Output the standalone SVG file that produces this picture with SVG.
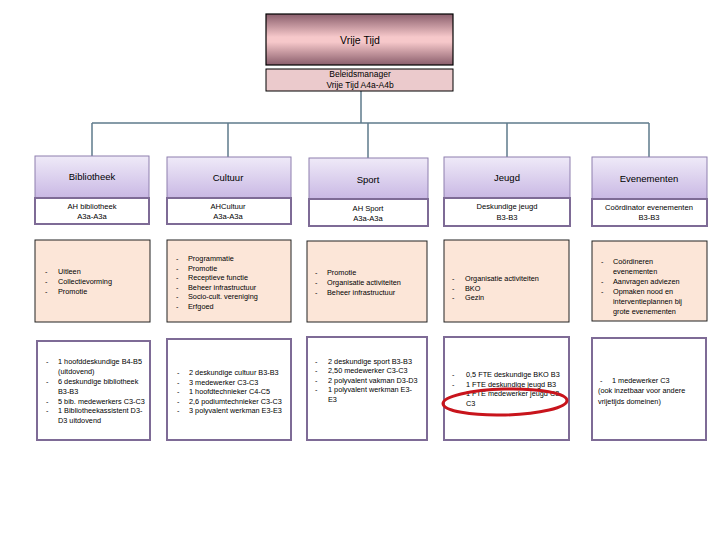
<svg xmlns="http://www.w3.org/2000/svg" width="720" height="540" viewBox="0 0 720 540">
<style>
text{font-family:"Liberation Sans",Arial,sans-serif;fill:#000}
.hd{font-size:9.5px;text-anchor:middle}
.sb{font-size:7.6px;text-anchor:middle}
.ls{font-size:7.3px}
.hbox{fill:url(#hg);stroke:#8E7FAE;stroke-width:1}
.sbox{fill:#fff;stroke:#7E6B96;stroke-width:2}
.mbox{fill:#FCE6D8;stroke:#222;stroke-width:1}
.bbox{fill:#fff;stroke:#7E6B96;stroke-width:2}
.con{fill:none;stroke:#5F7B8C;stroke-width:1.5}
</style>
<defs>
<linearGradient id="hg" x1="0" y1="0" x2="0" y2="1">
<stop offset="0" stop-color="#EFEAF8"/>
<stop offset="1" stop-color="#C9B8E4"/>
</linearGradient>
<linearGradient id="tg" x1="0" y1="0" x2="0" y2="1">
<stop offset="0" stop-color="#8A5E6C"/>
<stop offset="0.45" stop-color="#F6C8CA"/>
<stop offset="0.55" stop-color="#F6C8CA"/>
<stop offset="1" stop-color="#8A5E6C"/>
</linearGradient>
</defs>
<rect width="720" height="540" fill="#fff"/>

<g id="connectors">
<path class="con" d="M361 91V123M92 123H649M92 123V156M228 123V157M368 123V158M507 123V157M649 123V157"/>
</g>

<g id="vrije-tijd">
<rect x="266" y="14" width="187" height="51" fill="url(#tg)" stroke="#000" stroke-width="1.2"/>
<text x="360" y="44" style="font-size:10.5px;text-anchor:middle">Vrije Tijd</text>
</g>
<g id="beleidsmanager">
<rect x="266" y="69" width="187" height="22" fill="#EBCACC" stroke="#000" stroke-width="1"/>
<text x="360" y="77" style="font-size:8.5px;text-anchor:middle">Beleidsmanager</text>
<text x="360" y="88" style="font-size:8.5px;text-anchor:middle">Vrije Tijd A4a-A4b</text>
</g>

<g id="bibliotheek">
<rect class="hbox" x="35" y="156" width="114" height="42"/>
<text class="hd" x="92" y="180">Bibliotheek</text>
<rect class="sbox" x="35" y="198" width="114" height="26"/>
<text class="sb" x="92" y="209">AH bibliotheek</text>
<text class="sb" x="92" y="219">A3a-A3a</text>
</g>
<g id="cultuur">
<rect class="hbox" x="167" y="157" width="124" height="41"/>
<text class="hd" x="228" y="181">Cultuur</text>
<rect class="sbox" x="167" y="198" width="124" height="26"/>
<text class="sb" x="228" y="209">AHCultuur</text>
<text class="sb" x="228" y="219">A3a-A3a</text>
</g>
<g id="sport">
<rect class="hbox" x="309" y="158" width="119" height="41"/>
<text class="hd" x="368" y="183">Sport</text>
<rect class="sbox" x="309" y="199" width="119" height="27"/>
<text class="sb" x="368" y="211">AH Sport</text>
<text class="sb" x="368" y="221">A3a-A3a</text>
</g>
<g id="jeugd">
<rect class="hbox" x="444" y="157" width="126" height="41"/>
<text class="hd" x="507" y="181">Jeugd</text>
<rect class="sbox" x="444" y="198" width="126" height="28"/>
<text class="sb" x="507" y="209">Deskundige jeugd</text>
<text class="sb" x="507" y="220">B3-B3</text>
</g>
<g id="evenementen">
<rect class="hbox" x="592" y="157" width="115" height="42"/>
<text class="hd" x="649" y="182">Evenementen</text>
<rect class="sbox" x="592" y="199" width="115" height="27"/>
<text class="sb" x="649" y="210">Coördinator evenementen</text>
<text class="sb" x="649" y="220">B3-B3</text>
</g>

<g id="taken-bibliotheek">
<rect class="mbox" x="35" y="240" width="115" height="82"/>
<text class="ls"><tspan x="45" y="274">-</tspan><tspan x="58" y="274">Uitleen</tspan><tspan x="45" y="284">-</tspan><tspan x="58" y="284">Collectievorming</tspan><tspan x="45" y="294">-</tspan><tspan x="58" y="294">Promotie</tspan></text>
</g>
<g id="taken-cultuur">
<rect class="mbox" x="167" y="240" width="124" height="82"/>
<text class="ls"><tspan x="176" y="261">-</tspan><tspan x="188" y="261">Programmatie</tspan><tspan x="176" y="270.5">-</tspan><tspan x="188" y="270.5">Promotie</tspan><tspan x="176" y="280">-</tspan><tspan x="188" y="280">Receptieve functie</tspan><tspan x="176" y="289.5">-</tspan><tspan x="188" y="289.5">Beheer infrastructuur</tspan><tspan x="176" y="299">-</tspan><tspan x="188" y="299">Socio-cult. vereniging</tspan><tspan x="176" y="308.5">-</tspan><tspan x="188" y="308.5">Erfgoed</tspan></text>
</g>
<g id="taken-sport">
<rect class="mbox" x="307" y="241" width="120" height="81"/>
<text class="ls"><tspan x="315" y="275">-</tspan><tspan x="327" y="275">Promotie</tspan><tspan x="315" y="285">-</tspan><tspan x="327" y="285">Organisatie activiteiten</tspan><tspan x="315" y="295">-</tspan><tspan x="327" y="295">Beheer infrastructuur</tspan></text>
</g>
<g id="taken-jeugd">
<rect class="mbox" x="444" y="240" width="125" height="82"/>
<text class="ls"><tspan x="452" y="281">-</tspan><tspan x="465" y="281">Organisatie activiteiten</tspan><tspan x="452" y="290.5">-</tspan><tspan x="465" y="290.5">BKO</tspan><tspan x="452" y="300">-</tspan><tspan x="465" y="300">Gezin</tspan></text>
</g>
<g id="taken-evenementen">
<rect class="mbox" x="592" y="241" width="115" height="80"/>
<text class="ls"><tspan x="601" y="264">-</tspan><tspan x="613" y="264">Coördineren</tspan><tspan x="613" y="274">evenementen</tspan><tspan x="601" y="284">-</tspan><tspan x="613" y="284">Aanvragen adviezen</tspan><tspan x="601" y="294">-</tspan><tspan x="613" y="294">Opmaken nood en</tspan><tspan x="613" y="304">interventieplannen bij</tspan><tspan x="613" y="314">grote evenementen</tspan></text>
</g>

<g id="formatie-bibliotheek">
<rect class="bbox" x="37" y="341" width="113" height="99"/>
<text class="ls"><tspan x="46" y="364">-</tspan><tspan x="58" y="364">1 hoofddeskundige B4-B5</tspan><tspan x="58" y="373.5">(uitdovend)</tspan><tspan x="46" y="383.5">-</tspan><tspan x="58" y="383.5">6 deskundige bibliotheek</tspan><tspan x="58" y="393.5">B3-B3</tspan><tspan x="46" y="403.5">-</tspan><tspan x="58" y="403.5">5 bib. medewerkers C3-C3</tspan><tspan x="46" y="413">-</tspan><tspan x="58" y="413">1 Bibliotheekassistent D3-</tspan><tspan x="58" y="422.5">D3 uitdovend</tspan></text>
</g>
<g id="formatie-cultuur">
<rect class="bbox" x="167" y="339" width="124" height="101"/>
<text class="ls"><tspan x="177" y="375">-</tspan><tspan x="189" y="375">2 deskundige cultuur B3-B3</tspan><tspan x="177" y="384.5">-</tspan><tspan x="189" y="384.5">3 medewerker C3-C3</tspan><tspan x="177" y="394">-</tspan><tspan x="189" y="394">1 hoofdtechnieker C4-C5</tspan><tspan x="177" y="403.5">-</tspan><tspan x="189" y="403.5">2,6 podiumtechnieker C3-C3</tspan><tspan x="177" y="413">-</tspan><tspan x="189" y="413">3 polyvalent werkman E3-E3</tspan></text>
</g>
<g id="formatie-sport">
<rect class="bbox" x="307" y="337" width="120" height="103"/>
<text class="ls"><tspan x="315" y="363.5">-</tspan><tspan x="328" y="363.5">2 deskundige sport B3-B3</tspan><tspan x="315" y="373">-</tspan><tspan x="328" y="373">2,50  medewerker C3-C3</tspan><tspan x="315" y="382.5">-</tspan><tspan x="328" y="382.5">2 polyvalent vakman D3-D3</tspan><tspan x="315" y="392">-</tspan><tspan x="328" y="392">1 polyvalent werkman E3-</tspan><tspan x="328" y="401.5">E3</tspan></text>
</g>
<g id="formatie-jeugd">
<rect class="bbox" x="444" y="337" width="125" height="103"/>
<text class="ls"><tspan x="452" y="377">-</tspan><tspan x="466" y="377">0,5 FTE deskundige BKO B3</tspan><tspan x="452" y="386.5">-</tspan><tspan x="466" y="386.5">1 FTE deskundige jeugd  B3</tspan><tspan x="466" y="396">1 FTE medewerker jeugd C3-</tspan><tspan x="466" y="405.5">C3</tspan></text>
<ellipse cx="505" cy="402" rx="62" ry="13" fill="none" stroke="#C8141C" stroke-width="3" transform="rotate(-1.5 505 402)"/>
</g>
<g id="formatie-evenementen">
<rect class="bbox" x="592" y="338" width="114" height="102"/>
<text class="ls"><tspan x="600" y="383">-</tspan><tspan x="612" y="383">1 medewerker C3</tspan><tspan x="598" y="393">(ook inzetbaar voor andere</tspan><tspan x="598" y="403.5">vrijetijds domeinen)</tspan></text>
</g>
</svg>
